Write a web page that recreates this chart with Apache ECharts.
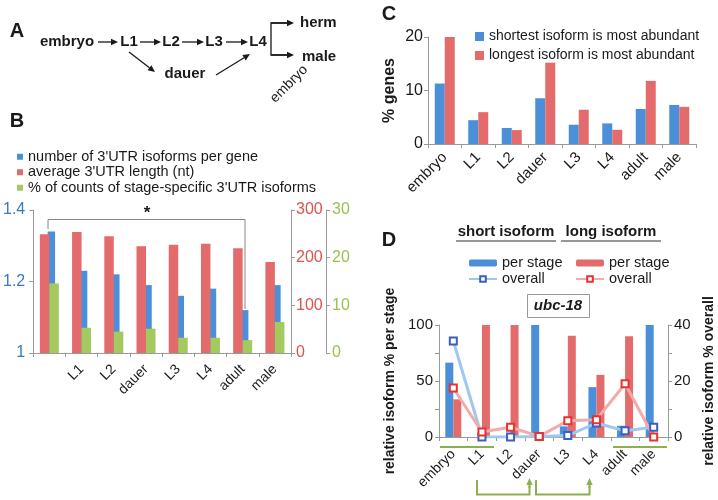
<!DOCTYPE html>
<html><head><meta charset="utf-8">
<script src="https://cdn.jsdelivr.net/npm/echarts@6/dist/echarts.min.js"></script>
<style>html,body{margin:0;padding:0;background:#fff}#chart{width:718px;height:500px}</style>
</head><body><div id="chart"></div>
<script>
const FONT = '"Liberation Sans", Arial, Helvetica, sans-serif';
const BLUE = '#4a8fd8', RED = '#e46b6b', GREEN = '#a3c95f';
const AXIS = '#9a9a9a', INK = '#1a1a1a', ANNO = '#8db04e';

// B
const stagesB = ['', 'L1', 'L2', 'dauer', 'L3', 'L4', 'adult', 'male'];
const isoformsPerGene = [1.34, 1.23, 1.22, 1.19, 1.16, 1.18, 1.12, 1.19];
const avgUtrLength = [249, 254, 245, 224, 227, 229, 220, 191];
const stageSpecificPct = [14.6, 5.3, 4.5, 5.1, 3.2, 3.2, 2.7, 6.5];
const dummyB = [null, null, null, null, null, null, null, null];

// C
const stages = ['embryo', 'L1', 'L2', 'dauer', 'L3', 'L4', 'adult', 'male'];
const shortestMostAbundant = [11.3, 4.45, 3.0, 8.55, 3.6, 3.85, 6.55, 7.3];
const longestMostAbundant = [20.0, 5.95, 2.6, 15.2, 6.4, 2.65, 11.8, 6.95];

// D (ubc-18)
const shortPerStage = [66.4, 0, 0, 100, 9.5, 44.5, 10, 100];
const longPerStage = [33.6, 100, 100, 0, 90.5, 55.5, 90, 0];
const shortOverall = [34.3, 0, 0, 0.2, 0.5, 5.0, 2.2, 3.5];
const longOverall = [17.5, 1.8, 3.5, 0.2, 5.8, 6.2, 19, 0];

const chart = echarts.init(document.getElementById('chart'));

function arrow(x1, y1, x2, y2, color, w) {
  const a = Math.atan2(y2 - y1, x2 - x1), L = 7, W = 3.2;
  const bx = x2 - L * Math.cos(a), by = y2 - L * Math.sin(a);
  return [
    {type: 'line', shape: {x1: x1, y1: y1, x2: bx, y2: by}, style: {stroke: color, lineWidth: w}},
    {type: 'polygon', shape: {points: [[x2, y2], [bx + W * Math.sin(a), by - W * Math.cos(a)], [bx - W * Math.sin(a), by + W * Math.cos(a)]]}, style: {fill: color}}
  ];
}
function txt(x, y, s, size, weight, extra) {
  return Object.assign({type: 'text', x: x, y: y, style: {text: s, fontSize: size, fontWeight: weight || 'normal', fontFamily: FONT, fill: INK, align: 'center', verticalAlign: 'middle'}}, extra || {});
}

const graphics = [
  txt(17, 31, 'A', 20, 'bold'),
  txt(17, 121, 'B', 20, 'bold'),
  txt(389, 14, 'C', 20, 'bold'),
  txt(389, 240, 'D', 20, 'bold'),
  // panel A
  txt(67, 42, 'embryo', 15, 'bold'),
  txt(129, 42, 'L1', 15, 'bold'),
  txt(171, 42, 'L2', 15, 'bold'),
  txt(214, 42, 'L3', 15, 'bold'),
  txt(258, 42, 'L4', 15, 'bold'),
  txt(185, 74, 'dauer', 15, 'bold'),
  txt(300, 23, 'herm', 15, 'bold', {style: {text: 'herm', fontSize: 15, fontWeight: 'bold', fontFamily: FONT, fill: INK, align: 'left', verticalAlign: 'middle'}}),
  txt(302, 57, 'male', 15, 'bold', {style: {text: 'male', fontSize: 15, fontWeight: 'bold', fontFamily: FONT, fill: INK, align: 'left', verticalAlign: 'middle'}}),
  txt(289, 84, 'embryo', 14, 'normal', {rotation: Math.PI / 4}),
  {type: 'polyline', shape: {points: [[287, 23], [271, 23], [271, 55], [287, 55]]}, style: {stroke: INK, lineWidth: 1.3, fill: null}},
  // panel B bracket
  {type: 'polyline', shape: {points: [[48, 229], [48, 219.5], [245, 219.5], [245, 309]]}, style: {stroke: '#888', lineWidth: 1, fill: null}},
  txt(147, 213, '*', 17, 'bold'),
  // panel D headers and box
  txt(506, 232, 'short isoform', 15, 'bold'),
  txt(611, 232, 'long isoform', 15, 'bold'),
  {type: 'line', shape: {x1: 456, y1: 241, x2: 556, y2: 241}, style: {stroke: '#333', lineWidth: 1.2}},
  {type: 'line', shape: {x1: 561, y1: 241, x2: 661, y2: 241}, style: {stroke: '#333', lineWidth: 1.2}},
  {type: 'rect', shape: {x: 527.5, y: 294.5, width: 62, height: 23}, style: {stroke: '#999', fill: '#fff', lineWidth: 1}},
  txt(558, 306, 'ubc-18', 15, 'bold', {style: {text: 'ubc-18', fontSize: 15, fontWeight: 'bold', fontStyle: 'italic', fontFamily: FONT, fill: INK, align: 'center', verticalAlign: 'middle'}}),
  // panel D green annotations
  {type: 'line', shape: {x1: 440, y1: 447, x2: 494, y2: 447}, style: {stroke: ANNO, lineWidth: 2}},
  {type: 'line', shape: {x1: 613, y1: 447, x2: 667, y2: 447}, style: {stroke: ANNO, lineWidth: 2}},
  {type: 'polyline', shape: {points: [[477, 480], [477, 494.5], [529.5, 494.5], [529.5, 486]]}, style: {stroke: ANNO, lineWidth: 2, fill: null}},
  {type: 'polyline', shape: {points: [[536, 480], [536, 494.5], [589.5, 494.5], [589.5, 486]]}, style: {stroke: ANNO, lineWidth: 2, fill: null}}
].concat(
  arrow(98, 42, 118, 42, INK, 1.3),
  arrow(140, 42, 161, 42, INK, 1.3),
  arrow(182, 42, 204, 42, INK, 1.3),
  arrow(226, 42, 248, 42, INK, 1.3),
  arrow(129, 52, 155, 72, INK, 1.3),
  arrow(216, 75, 250, 54, INK, 1.3),
  arrow(271, 23, 294, 23, INK, 1.3),
  arrow(271, 55, 294, 55, INK, 1.3),
  arrow(529.5, 488, 529.5, 478, ANNO, 2),
  arrow(589.5, 488, 589.5, 478, ANNO, 2)
);

const axisLineStyle = {show: true, lineStyle: {color: AXIS, width: 1}};
const tickStyle = {show: true, length: 4, lineStyle: {color: AXIS}};

const option = {
  animation: false,
  textStyle: {fontFamily: FONT},
  graphic: graphics,
  legend: [
    {orient: 'vertical', left: 12, top: 144, icon: 'rect', itemWidth: 6, itemHeight: 6, itemGap: 0,
     selectedMode: false, textStyle: {fontSize: 14.5, color: INK, lineHeight: 15.5, fontFamily: FONT},
     data: ["number of 3'UTR isoforms per gene", "average 3'UTR length (nt)", "% of counts of stage-specific 3'UTR isoforms"]},
    {orient: 'vertical', left: 470, top: 22, icon: 'rect', itemWidth: 9, itemHeight: 9, itemGap: 0,
     selectedMode: false, textStyle: {fontSize: 14, color: INK, lineHeight: 19, fontFamily: FONT},
     data: ['shortest isoform is most abundant', 'longest isoform is most abundant']},
    {orient: 'vertical', left: 463, top: 250, itemWidth: 28, itemHeight: 7, itemGap: 0,
     selectedMode: false, textStyle: {fontSize: 14.5, color: INK, lineHeight: 16, fontFamily: FONT},
     formatter: n => n.indexOf('per stage') >= 0 ? 'per stage' : 'overall',
     data: ['short per stage', 'short overall']},
    {orient: 'vertical', left: 570, top: 250, itemWidth: 28, itemHeight: 7, itemGap: 0,
     selectedMode: false, textStyle: {fontSize: 14.5, color: INK, lineHeight: 16, fontFamily: FONT},
     formatter: n => n.indexOf('per stage') >= 0 ? 'per stage' : 'overall',
     data: ['long per stage', 'long overall']}
  ],
  grid: [
    {left: 32, right: 427, top: 210, bottom: 147},
    {left: 428, right: 22, top: 37, bottom: 356},
    {left: 439, right: 50, top: 325, bottom: 63}
  ],
  xAxis: [
    {gridIndex: 0, type: 'category', data: stagesB, axisLine: axisLineStyle, axisTick: tickStyle,
     axisLabel: {rotate: 45, interval: 0, fontSize: 14, color: INK, margin: 14}},
    {gridIndex: 0, type: 'category', data: stagesB, show: false},
    {gridIndex: 1, type: 'category', data: stages, axisLine: axisLineStyle, axisTick: tickStyle,
     axisLabel: {rotate: 45, interval: 0, fontSize: 15, color: INK, margin: 11}},
    {gridIndex: 2, type: 'category', data: stages, axisLine: axisLineStyle, axisTick: tickStyle,
     axisLabel: {rotate: 45, interval: 0, fontSize: 14, color: INK, margin: 15}}
  ],
  yAxis: [
    {gridIndex: 0, min: 1, max: 1.4, interval: 0.2, axisLine: axisLineStyle, axisTick: tickStyle, splitLine: {show: false},
     axisLabel: {color: '#3b78c0', fontSize: 16, margin: 8}},
    {gridIndex: 0, position: 'right', min: 0, max: 300, interval: 100, axisLine: axisLineStyle, axisTick: tickStyle, splitLine: {show: false},
     axisLabel: {color: '#d9534f', fontSize: 16, margin: 5}},
    {gridIndex: 0, position: 'right', offset: 35, min: 0, max: 30, interval: 10, axisLine: axisLineStyle, axisTick: tickStyle, splitLine: {show: false},
     axisLabel: {color: '#98c24c', fontSize: 16, margin: 6}},
    {gridIndex: 1, min: 0, max: 20, interval: 10, axisLine: axisLineStyle, axisTick: tickStyle, splitLine: {show: false},
     axisLabel: {color: INK, fontSize: 16, margin: 5},
     name: '% genes', nameLocation: 'middle', nameGap: 30, nameRotate: 90,
     nameTextStyle: {fontSize: 16, fontWeight: 'bold', color: INK}},
    {gridIndex: 2, min: 0, max: 100, interval: 25, axisLine: axisLineStyle, axisTick: tickStyle, splitLine: {show: false},
     axisLabel: {color: INK, fontSize: 15, margin: 6, formatter: v => v % 50 === 0 ? v : ''},
     name: 'relative isoform % per stage', nameLocation: 'middle', nameGap: 42, nameRotate: 90,
     nameTextStyle: {fontSize: 14, fontWeight: 'bold', color: INK}},
    {gridIndex: 2, position: 'right', min: 0, max: 40, interval: 10, axisLine: axisLineStyle, axisTick: tickStyle, splitLine: {show: false},
     axisLabel: {color: INK, fontSize: 15, margin: 6, formatter: v => v % 20 === 0 ? v : ''},
     name: 'relative isoform % overall', nameLocation: 'middle', nameGap: 34, nameRotate: 90,
     nameTextStyle: {fontSize: 14, fontWeight: 'bold', color: INK}}
  ],
  series: [
    // B: blue sits on its own hidden category axis so it can overlap the green bars
    {name: 'dummyB', type: 'bar', xAxisIndex: 1, yAxisIndex: 0, data: dummyB, barWidth: 4, barGap: 0, silent: true},
    {name: "number of 3'UTR isoforms per gene", type: 'bar', xAxisIndex: 1, yAxisIndex: 0, data: isoformsPerGene,
     barWidth: 7.5, barGap: 0, itemStyle: {color: BLUE}},
    {name: "average 3'UTR length (nt)", type: 'bar', xAxisIndex: 0, yAxisIndex: 1, data: avgUtrLength,
     barWidth: 9.5, barGap: 0, itemStyle: {color: RED}},
    {name: "% of counts of stage-specific 3'UTR isoforms", type: 'bar', xAxisIndex: 0, yAxisIndex: 2, data: stageSpecificPct,
     barWidth: 9.5, barGap: 0, itemStyle: {color: GREEN}},
    // C
    {name: 'shortest isoform is most abundant', type: 'bar', xAxisIndex: 2, yAxisIndex: 3, data: shortestMostAbundant,
     barWidth: 10, barGap: 0, itemStyle: {color: BLUE}},
    {name: 'longest isoform is most abundant', type: 'bar', xAxisIndex: 2, yAxisIndex: 3, data: longestMostAbundant,
     barWidth: 10, barGap: 0, itemStyle: {color: RED}},
    // D
    {name: 'short per stage', type: 'bar', xAxisIndex: 3, yAxisIndex: 4, data: shortPerStage,
     barWidth: 8, barGap: 0, itemStyle: {color: BLUE}},
    {name: 'long per stage', type: 'bar', xAxisIndex: 3, yAxisIndex: 4, data: longPerStage,
     barWidth: 8, barGap: 0, itemStyle: {color: RED}},
    {name: 'short overall', type: 'line', xAxisIndex: 3, yAxisIndex: 5, data: shortOverall,
     symbol: 'emptyRect', symbolSize: 7, itemStyle: {color: '#3b5fc0', borderWidth: 1.2},
     lineStyle: {color: '#9fc8ee', width: 3}, z: 5},
    {name: 'long overall', type: 'line', xAxisIndex: 3, yAxisIndex: 5, data: longOverall,
     symbol: 'emptyRect', symbolSize: 7, itemStyle: {color: '#e8322f', borderWidth: 1.2},
     lineStyle: {color: '#f2aaaa', width: 3}, z: 5}
  ]
};
chart.setOption(option);
</script>
</body></html>
